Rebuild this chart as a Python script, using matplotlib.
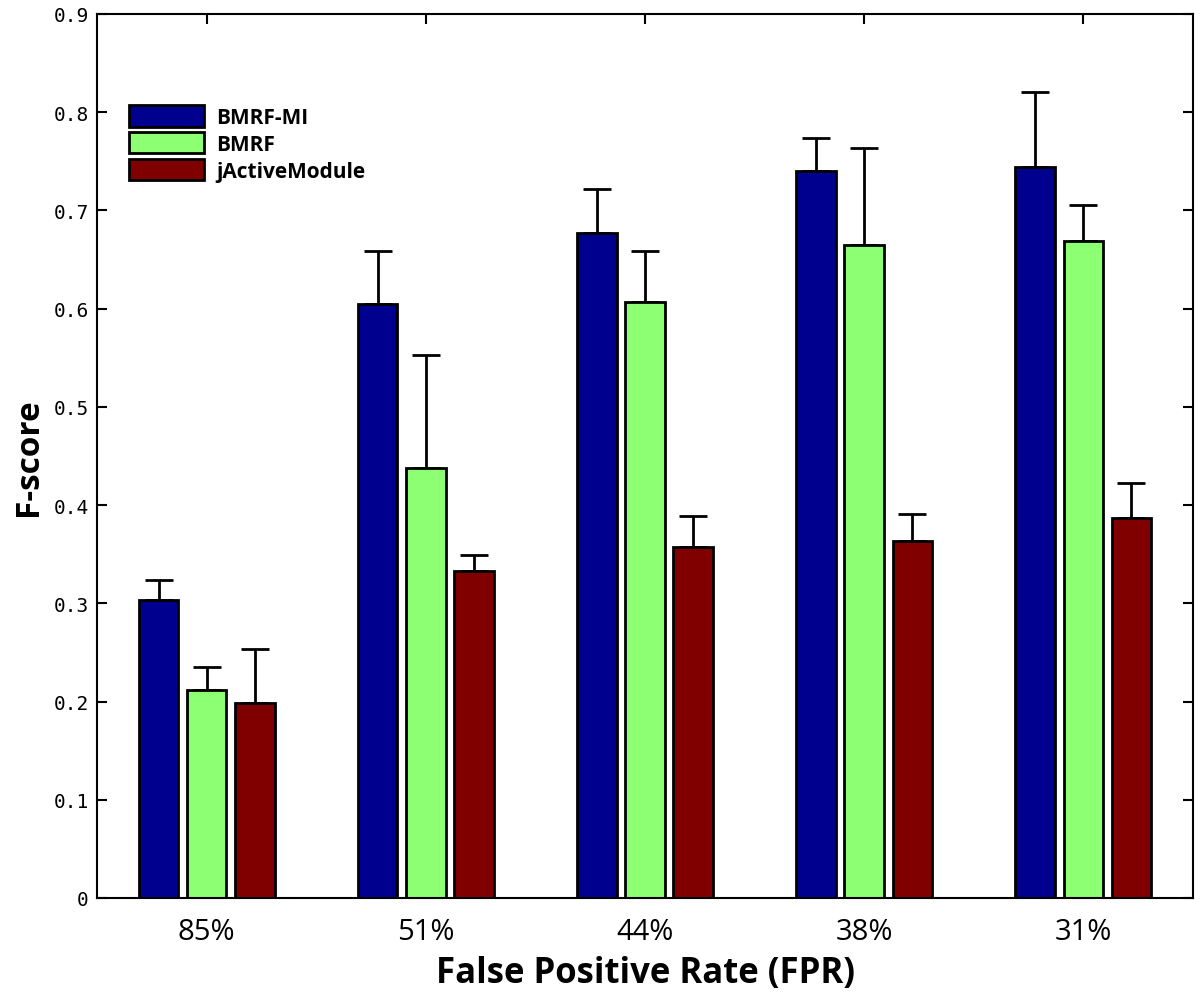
import matplotlib.pyplot as plt
import numpy as np

categories = ["85%", "51%", "44%", "38%", "31%"]
series_names = ["BMRF-MI", "BMRF", "jActiveModule"]
bmrf_mi = [0.303, 0.605, 0.677, 0.740, 0.744]
bmrf_mi_top = [0.324, 0.659, 0.722, 0.774, 0.821]
bmrf = [0.212, 0.438, 0.607, 0.665, 0.669]
bmrf_top = [0.235, 0.553, 0.659, 0.764, 0.705]
jactive = [0.199, 0.333, 0.357, 0.363, 0.387]
jactive_top = [0.253, 0.349, 0.389, 0.391, 0.422]
yticks = [0, 0.1, 0.2, 0.3, 0.4, 0.5, 0.6, 0.7, 0.8, 0.9]
ytick_labels = ["0", "0.1", "0.2", "0.3", "0.4", "0.5", "0.6", "0.7", "0.8", "0.9"]

colors = ["#00008f", "#8cff73", "#800000"]

fig = plt.figure(figsize=(12, 9.95), dpi=100)
ax = fig.add_axes([0.081, 0.0965, 0.913, 0.8885])

x = np.arange(1, len(categories) + 1)
width = 0.18
step = 0.22
data = [(bmrf_mi, bmrf_mi_top), (bmrf, bmrf_top), (jactive, jactive_top)]
for i, (vals, tops) in enumerate(data):
    vals = np.array(vals)
    err = np.array(tops) - vals
    pos = x + (i - 1) * step
    ax.bar(pos, vals, width, color=colors[i], edgecolor="black", linewidth=2,
           label=series_names[i], zorder=2)
    ax.errorbar(pos, vals, yerr=[np.zeros_like(err), err], fmt="none",
                ecolor="black", elinewidth=2, capsize=10, capthick=2, zorder=1)

ax.set_xlim(0.5, 5.5)
ax.set_ylim(0, 0.9)
ax.set_xticks(x)
ax.set_xticklabels(categories, family="Open Sans", fontsize=21)
ax.set_yticks(yticks)
ax.set_yticklabels(ytick_labels, family="DejaVu Sans Mono", fontsize=14)
ax.tick_params(direction="in", length=7, width=1.5, top=True, right=True, pad=6)
ax.tick_params(axis="x", pad=14)
for s in ax.spines.values():
    s.set_linewidth(1.5)

ax.set_xlabel("False Positive Rate (FPR)", family="Open Sans", fontweight="bold",
              fontsize=25, labelpad=6)
ax.set_ylabel("F-score", family="Open Sans", fontweight="bold", fontsize=24,
              labelpad=6)

leg = ax.legend(loc="upper left", bbox_to_anchor=(0.012, 0.918), frameon=False,
                prop={"family": "Open Sans", "weight": "bold", "size": 15},
                handlelength=3.6, handleheight=1.2, labelspacing=0.2,
                handletextpad=0.6)

fig.savefig("out.png")
